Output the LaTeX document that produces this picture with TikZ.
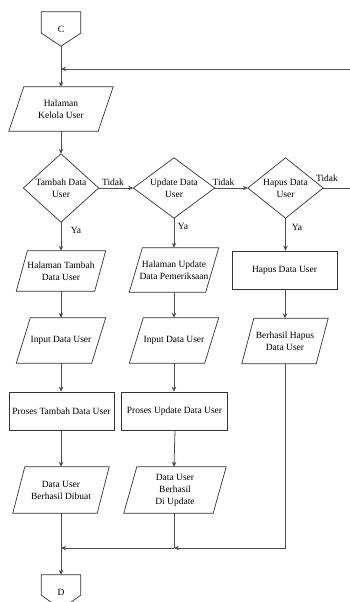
\documentclass[tikz,border=0pt]{standalone}
\usepackage{fontspec}
\setmainfont{Liberation Serif}
\newfontfamily\tnr{Liberation Serif}
\usetikzlibrary{arrows.meta}
\tikzset{
  txt/.style={inner sep=0pt, align=center, font=\tnr\fontsize{9.5}{12}\selectfont},
  shp/.style={draw=black!80, line width=0.7pt},
  boxn/.style={txt, draw=black!80, line width=0.7pt},
  lbl/.style={inner sep=0pt, font=\tnr\fontsize{9.5}{12}\selectfont},
  arr/.style={draw=black!70, line width=0.8pt, -{Stealth[length=5pt,width=4.5pt]}},
  ln/.style={draw=black!70, line width=0.8pt},
}
\newcommand\pgm[7]{%
  \node[txt, minimum width=#4, minimum height=#5] (#1) at (#2,#3) {#7};
  \draw[shp] ([xshift=#6/2]#1.north west) -- ([xshift=#6/2]#1.north east) -- ([xshift=-#6/2]#1.south east) -- ([xshift=-#6/2]#1.south west) -- cycle;}
\newcommand\dmd[6]{%
  \node[txt, minimum width=#4, minimum height=#5] (#1) at (#2,#3) {#6};
  \draw[shp] (#1.north) -- (#1.east) -- (#1.south) -- (#1.west) -- cycle;}
\begin{document}
\begin{tikzpicture}[x=1pt,y=1pt]
\useasboundingbox (0,0) rectangle (349,-602);
% off-page connector C
\node[txt, minimum width=39, minimum height=34] (c) at (61,-29) {C};
\draw[shp] (c.north west) -- (c.north east) -- ([yshift=13]c.south east) -- (c.south) -- ([yshift=13]c.south west) -- cycle;
% column 1
\pgm{hk}{61}{-109}{89}{44}{15}{Halaman\\Kelola User}
\dmd{d1}{61}{-188}{75}{68}{Tambah Data\\User}
\pgm{ht}{61}{-271}{78}{40}{11}{Halaman Tambah\\Data User}
\pgm{in1}{61}{-340.5}{75}{45}{14}{Input Data User}
\node[boxn, minimum width=105, minimum height=38] (pt) at (61.5,-411) {Proses Tambah Data User};
\pgm{db}{61}{-490}{84}{46}{12}{Data User\\Berhasil Dibuat}
% off-page connector D
\node[txt, minimum width=39, minimum height=34] (dd) at (61,-592) {D};
\draw[shp] (dd.north west) -- (dd.north east) -- ([yshift=14]dd.south east) -- (dd.south) -- ([yshift=14]dd.south west) -- cycle;
% column 2
\dmd{d2}{174}{-188}{81}{60}{Update Data\\User}
\pgm{hu}{174}{-270}{76}{44}{13}{Halaman Update\\Data Pemeriksaan}
\pgm{in2}{174}{-340.5}{75}{45}{14}{Input Data User}
\node[boxn, minimum width=106, minimum height=38] (pu) at (174.5,-411) {Proses Update Data User};
\pgm{du}{175}{-490}{89}{46}{13}{Data User\\Berhasil\\Di Update}
% column 3
\dmd{d3}{285.5}{-188}{75}{60}{Hapus Data\\User}
\node[boxn, minimum width=105, minimum height=38] (hp) at (284.5,-270) {Hapus Data User};
\pgm{bh}{285}{-341}{74}{45}{12}{Berhasil Hapus\\Data User}
% junctions
\coordinate (j1) at (61,-69);
\coordinate (j2) at (174,-548);
\coordinate (j3) at (61,-548);
% connectors
\draw[arr] (c.south) -- (hk.north);
\draw[arr] (hk.south) -- (d1.north);
\draw[arr] (d1.south) -- (ht.north);
\draw[arr] (ht.south) -- (in1.north);
\draw[arr] (in1.south) -- (pt.north -| in1.south);
\draw[arr] (pt.south -| db.north) -- (db.north);
\draw[arr] (db.south) -- (dd.north);
\draw[arr] (d1.east) -- (d2.west);
\draw[arr] (d2.east) -- (d3.west);
\draw[arr] (d3.east) -- (353,-188) |- (j1);
\draw[arr] (d2.south) -- (hu.north);
\draw[arr] (hu.south) -- (in2.north);
\draw[arr] (in2.south) -- (pu.north -| in2.south);
\draw[arr] (pu.south -| du.north) -- ([xshift=-1]du.north);
\draw[ln] ([xshift=-1]du.south) -- (j2);
\draw[arr] (d3.south) -- (hp.north -| d3.south);
\draw[arr] (hp.south -| bh.north) -- (bh.north);
\draw[arr] (bh.south) |- (j2);
\draw[arr] (j2) -- (j3);
% labels
\node[lbl] (t1) at (113,-182) {Tidak};
\node[lbl] (t2) at (223.5,-182) {Tidak};
\node[lbl] (t3) at (327,-178) {Tidak};
\node[lbl] (y1) at (76,-230) {Ya};
\node[lbl] (y2) at (183,-226) {Ya};
\node[lbl] (y3) at (297,-227) {Ya};
\end{tikzpicture}
\end{document}
